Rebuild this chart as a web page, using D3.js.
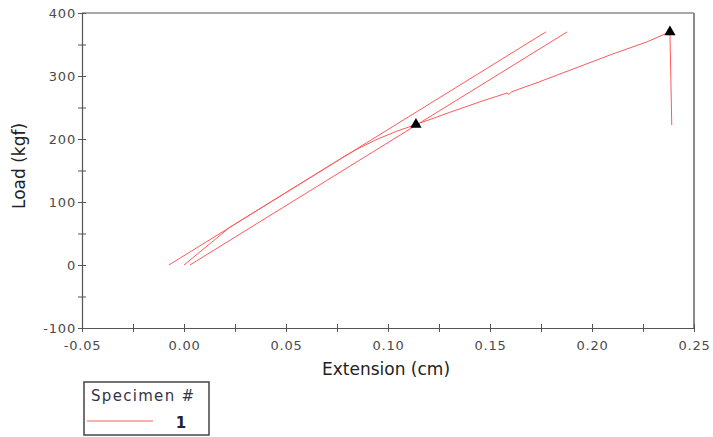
<!DOCTYPE html>
<html>
<head>
<meta charset="utf-8">
<script src="https://cdn.jsdelivr.net/npm/d3@7"></script>
<style>
  body { margin: 0; background: #fff; }
  svg { display: block; font-family: "DejaVu Sans", Verdana, sans-serif; }
</style>
</head>
<body>
<svg id="chart"></svg>
<script>
// test curve, specimen 1
var extension = [0.0000, 0.0225, 0.0779, 0.0860, 0.0950, 0.1040, 0.1137, 0.1300, 0.1450, 0.1583, 0.1593, 0.1607, 0.1744, 0.2102, 0.2268, 0.2382, 0.2391];
var load      = [0,      60,     171,    186,    200,    212,    223,    242,    259,    273,    271,    275,    291,    335,    354,    370,    222];
// modulus line and offset line
var modulus_ext  = [-0.0074, 0.1774];
var modulus_load = [0, 370];
var offset_ext   = [0.0029, 0.1878];
var offset_load  = [0, 370];
// markers (yield, max)
var marker_ext  = [0.1137, 0.2382];
var marker_load = [223, 370];

var x_ticks = [-0.05, 0.00, 0.05, 0.10, 0.15, 0.20, 0.25];
var x_tick_labels = ['-0.05', '0.00', '0.05', '0.10', '0.15', '0.20', '0.25'];
var y_ticks = [-100, 0, 100, 200, 300, 400];
var y_tick_labels = ['-100', '0', '100', '200', '300', '400'];
var legend_title = 'Specimen #';
var specimens = ['1'];

var width = 713, height = 437;
var margin = {left: 82, top: 13, right: 19, bottom: 109};
var plot_w = width - margin.left - margin.right;
var plot_h = height - margin.top - margin.bottom;
var line_color = '#ff5a5a';
var axis_color = '#555';

var svg = d3.select('#chart').attr('width', width).attr('height', height);
var g = svg.append('g').attr('transform', 'translate(' + margin.left + ',' + margin.top + ')');

var x = d3.scaleLinear().domain([-0.05, 0.25]).range([0, plot_w]);
var y = d3.scaleLinear().domain([-100, 400]).range([plot_h, 0]);

// minor ticks halfway between the majors
function with_minor(ticks) {
	var out = [];
	for (var i = 0; i < ticks.length; i++) {
		out.push(ticks[i]);
		if (i < ticks.length - 1) out.push((ticks[i] + ticks[i + 1]) / 2);
	}
	return out;
}

var x_axis = d3.axisBottom(x)
	.tickValues(with_minor(x_ticks))
	.tickSizeOuter(0)
	.tickFormat(function(d) {
		var i = x_ticks.findIndex(function(t) { return Math.abs(t - d) < 1e-9; });
		return i < 0 ? '' : x_tick_labels[i];
	});
var y_axis = d3.axisLeft(y)
	.tickValues(with_minor(y_ticks))
	.tickSizeOuter(0)
	.tickFormat(function(d) {
		var i = y_ticks.indexOf(d);
		return i < 0 ? '' : y_tick_labels[i];
	});

// frame: top and right
g.append('line').attr('x1', 0).attr('x2', plot_w).attr('y1', 0).attr('y2', 0)
	.attr('stroke', axis_color).attr('stroke-width', 1.2);
g.append('line').attr('x1', plot_w).attr('x2', plot_w).attr('y1', 0).attr('y2', plot_h)
	.attr('stroke', '#8a8a8a').attr('stroke-width', 2);

var gx = g.append('g').attr('transform', 'translate(0,' + plot_h + ')').call(x_axis);
gx.selectAll('.tick line').attr('y1', -4).attr('y2', 4);
gx.selectAll('.tick text').attr('y', 13);

var gy = g.append('g').call(y_axis);
gy.selectAll('.tick line').attr('x1', -4).attr('x2', 4);
gy.selectAll('.tick text').attr('x', -6);

[gx, gy].forEach(function(ax) {
	ax.select('.domain').attr('stroke', axis_color).attr('stroke-width', 1.2);
	ax.selectAll('.tick line').attr('stroke', axis_color);
	ax.selectAll('.tick text')
		.attr('fill', '#4a4a4a')
		.style('font-size', '13px')
		.style('letter-spacing', '0.8px')
		.style('font-family', '"DejaVu Sans", Verdana, sans-serif');
});

var line = d3.line()
	.x(function(d) { return x(d[0]); })
	.y(function(d) { return y(d[1]); });

function pairs(xs, ys) { return xs.map(function(v, i) { return [v, ys[i]]; }); }

g.append('path').datum(pairs(modulus_ext, modulus_load))
	.attr('d', line).attr('fill', 'none').attr('stroke', line_color).attr('stroke-width', 1);
g.append('path').datum(pairs(offset_ext, offset_load))
	.attr('d', line).attr('fill', 'none').attr('stroke', line_color).attr('stroke-width', 1);
g.append('path').datum(pairs(extension, load))
	.attr('d', line).attr('fill', 'none').attr('stroke', line_color).attr('stroke-width', 1);

g.selectAll('.marker').data(pairs(marker_ext, marker_load)).enter()
	.append('path').attr('class', 'marker')
	.attr('d', d3.symbol().type(d3.symbolTriangle).size(55))
	.attr('transform', function(d) { return 'translate(' + x(d[0]) + ',' + y(d[1]) + ')'; })
	.attr('fill', '#000');

// axis titles
svg.append('text')
	.attr('x', margin.left + x(0.10) - 2).attr('y', 375)
	.attr('text-anchor', 'middle')
	.style('font-size', '17px').attr('fill', '#222')
	.text('Extension (cm)');
svg.append('text')
	.attr('transform', 'translate(25,' + 166 + ') rotate(-90)')
	.attr('text-anchor', 'middle')
	.style('font-size', '17px').attr('fill', '#222')
	.text('Load (kgf)');

// legend
var lg = svg.append('g').attr('transform', 'translate(84,382)');
lg.append('rect').attr('width', 125).attr('height', 53)
	.attr('fill', '#fff').attr('stroke', '#444').attr('stroke-width', 1.5);
lg.append('text').attr('x', 7).attr('y', 19)
	.style('font-size', '15px').style('letter-spacing', '1.3px').attr('fill', '#333344')
	.text(legend_title);
lg.selectAll('.sp').data(specimens).enter().append('g').attr('class', 'sp')
	.each(function(d, i) {
		var s = d3.select(this);
		s.append('line').attr('x1', 3).attr('x2', 69).attr('y1', 39 + i * 18).attr('y2', 39 + i * 18)
			.attr('stroke', line_color).attr('stroke-width', 1);
		s.append('text').attr('x', 97).attr('y', 46 + i * 18)
			.attr('text-anchor', 'middle')
			.style('font-size', '15px').style('font-weight', 'bold').attr('fill', '#222233')
			.text(d);
	});
</script>
</body>
</html>
